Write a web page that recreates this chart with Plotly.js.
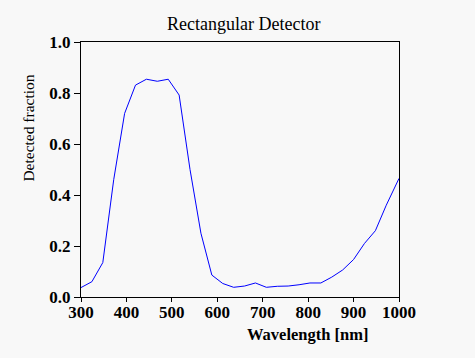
<!DOCTYPE html>
<html>
<head>
<meta charset="utf-8">
<script src="https://cdn.plot.ly/plotly-3.0.1.min.js"></script>
<style>html,body{margin:0;padding:0;background:#f8f8f8;}#chart{width:475px;height:358px;}</style>
</head>
<body>
<div id="chart"></div>
<script>
const wavelength = [300, 324, 348, 372, 396, 420, 444, 468, 492, 516, 540, 564, 588, 612, 636, 660, 684, 708, 732, 756, 780, 804, 828, 852, 876, 900, 924, 948, 972, 1000];
const fraction = [0.037, 0.060, 0.135, 0.46, 0.72, 0.831, 0.854, 0.846, 0.854, 0.792, 0.50, 0.25, 0.086, 0.053, 0.038, 0.043, 0.055, 0.038, 0.042, 0.043, 0.048, 0.055, 0.055, 0.078, 0.106, 0.147, 0.21, 0.26, 0.36, 0.465];
const xTicks = [300, 400, 500, 600, 700, 800, 900, 1000];
const yTicks = [0, 0.2, 0.4, 0.6, 0.8, 1.0];
const chartTitle = "Rectangular Detector";
const xTitle = "Wavelength [nm]";
const yTitle = "Detected fraction";

const font = "Liberation Serif, Times New Roman, serif";
const trace = {
  x: wavelength, y: fraction, type: "scatter", mode: "lines",
  line: {color: "#0000ff", width: 1}, hoverinfo: "none"
};
const tickFont = {family: font, size: 17, color: "#000", weight: "bold"};
const layout = {
  width: 475, height: 358,
  paper_bgcolor: "#f8f8f8", plot_bgcolor: "#f8f8f8",
  margin: {l: 80.5, r: 76, t: 42, b: 61, pad: 0},
  showlegend: false,
  font: {family: font, color: "#000", size: 17},
  title: {text: chartTitle, font: {family: font, size: 18, color: "#000"}, x: 243/475, xanchor: "center", y: 1 - 24/358, yanchor: "middle", xref: "paper", yref: "container"},
  xaxis: {
    range: [300, 1000], tickvals: xTicks, ticktext: xTicks.map(String),
    showgrid: false, zeroline: false, showline: true, linecolor: "#000", linewidth: 1, mirror: true,
    ticks: "outside", ticklen: 4, tickcolor: "#000", tickwidth: 1, ticklabelstandoff: -4,
    tickfont: tickFont, fixedrange: true
  },
  yaxis: {
    range: [0, 1], tickvals: yTicks, ticktext: yTicks.map(v => v.toFixed(1)),
    showgrid: false, zeroline: false, showline: true, linecolor: "#000", linewidth: 1, mirror: true,
    ticks: "outside", ticklen: 6, tickcolor: "#000", tickwidth: 1,
    tickfont: tickFont, fixedrange: true
  },
  annotations: [
    {text: xTitle, xref: "paper", yref: "paper", x: (307 - 80.5) / 318.5, y: -(334 - 297) / 255, xanchor: "center", yanchor: "middle", showarrow: false, font: {family: font, size: 16.5, color: "#000", weight: "bold"}},
    {text: yTitle, xref: "paper", yref: "paper", x: -(80.5 - 27.5) / 318.5, y: (297 - 128.5) / 255, xanchor: "center", yanchor: "middle", textangle: -90, showarrow: false, font: {family: font, size: 15.5, color: "#000"}}
  ]
};
Plotly.newPlot("chart", [trace], layout, {staticPlot: true, displayModeBar: false});
</script>
</body>
</html>
